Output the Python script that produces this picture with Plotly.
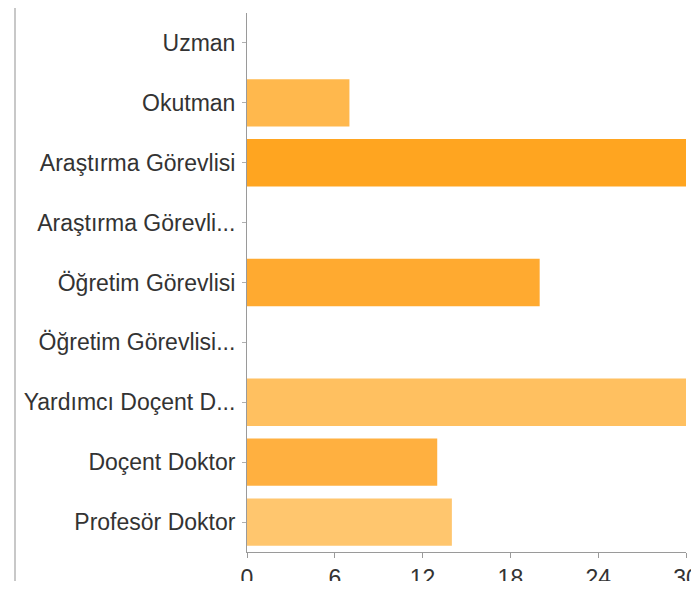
import plotly.graph_objects as go

categories = ["Uzman", "Okutman", "Araştırma Görevlisi", "Araştırma Görevli...",
              "Öğretim Görevlisi", "Öğretim Görevlisi...", "Yardımcı Doçent D...",
              "Doçent Doktor", "Profesör Doktor"]
values = [0, 7, 30, 0, 20, 0, 30, 13, 14]
bar_colors = ["#FFB84D", "#FFB84D", "#FFA520", "#FFAA30", "#FFAA30",
              "#FFC060", "#FFC060", "#FFB040", "#FFC66E"]
x_ticks = [0, 6, 12, 18, 24, 30]

fig = go.Figure(go.Bar(
    x=values, y=categories, orientation="h",
    marker=dict(color=bar_colors, line=dict(width=0)),
))

# The page body keeps its default 8px margin, so the figure is 16px smaller than the
# window and every figure coordinate is the window coordinate minus 8.
W, H = 683, 573
L, R, T, B = 239, 5, 5, 29
PW, PH = W - L - R, H - T - B

fig.update_layout(
    width=W, height=H,
    margin=dict(l=L, r=R, t=T, b=B, pad=0, autoexpand=False),
    paper_bgcolor="white", plot_bgcolor="white",
    bargap=0.21, showlegend=False,
    font=dict(family="Liberation Sans, Arial, sans-serif", size=23, color="#333333"),
    xaxis=dict(range=[0, 30], tickvals=x_ticks, showgrid=False, zeroline=False,
               showline=True, linecolor="#9a9a9a", linewidth=1,
               ticks="outside", ticklen=5, tickcolor="#9a9a9a",
               ticklabeloverflow="allow", automargin=False,
               tickfont=dict(size=23, color="#333333")),
    yaxis=dict(autorange="reversed", showgrid=False, zeroline=False,
               showline=True, linecolor="#9a9a9a", linewidth=1,
               ticks="outside", ticklen=4, tickcolor="#b0b0b0",
               ticklabelstandoff=2, automargin=False,
               tickfont=dict(size=23, color="#333333")),
    shapes=[dict(type="line", xref="paper", yref="paper",
                 x0=(7 - L) / PW, x1=(7 - L) / PW,
                 y0=(H - B - 575) / PH, y1=(H - B + 3) / PH,
                 line=dict(color="#c8c8c8", width=2))],
)

fig.write_html(
    "out.html",
    config={"displayModeBar": False},
    post_script="document.querySelectorAll('.main-svg').forEach(function(s){s.style.overflow='visible';});",
)
